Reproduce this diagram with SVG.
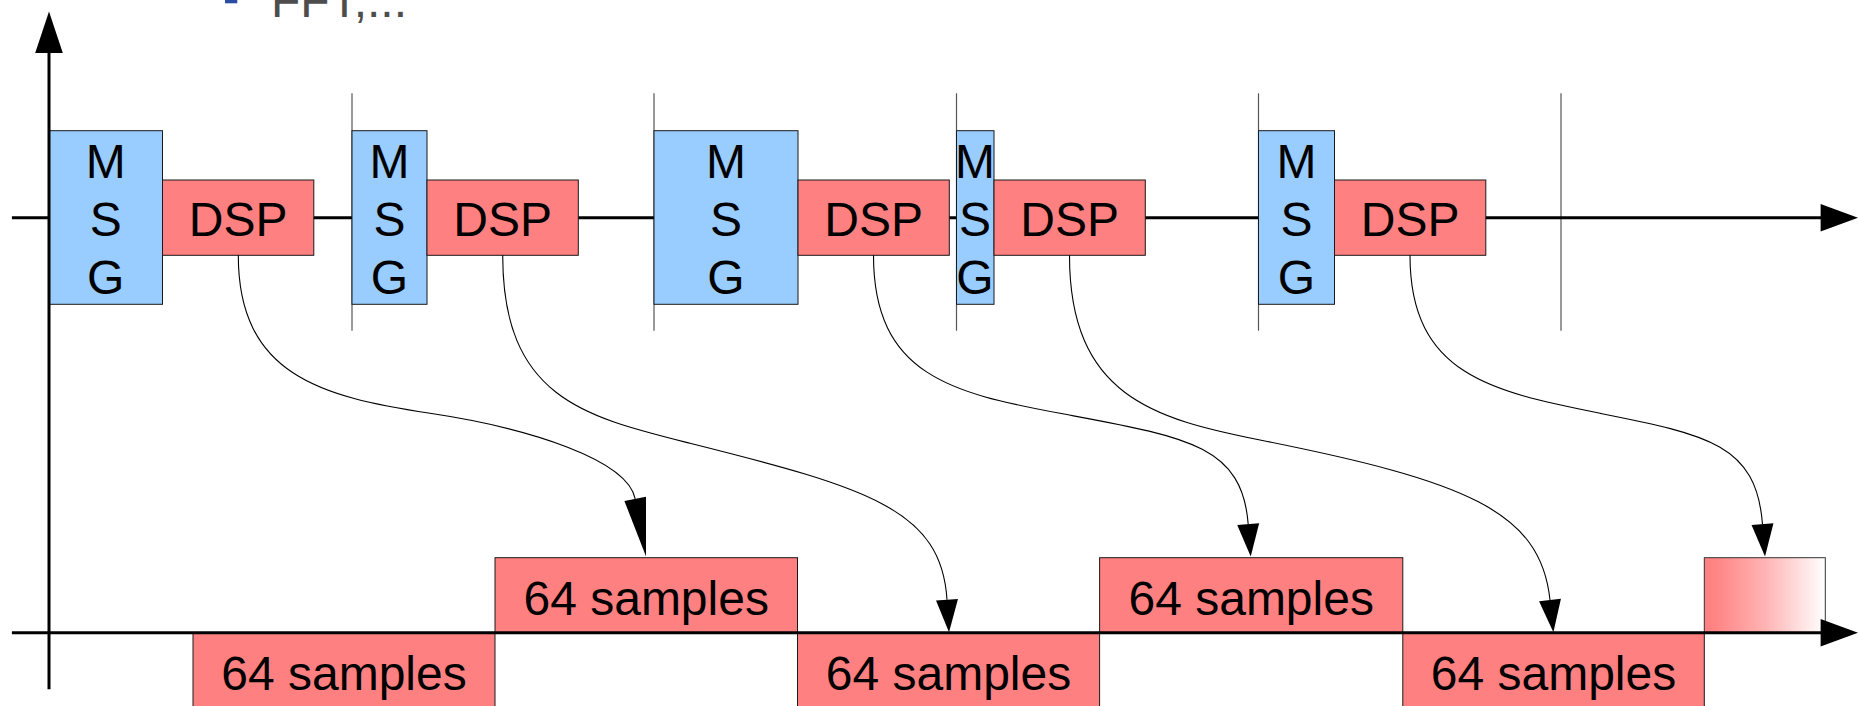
<svg xmlns="http://www.w3.org/2000/svg" width="1858" height="706" viewBox="0 0 1858 706">
<defs>
<style>
.msg{fill:#99ccff;stroke:#1a1a1a;stroke-width:1}
.dsp{fill:#ff8080;stroke:#1a1a1a;stroke-width:1}
.buf{fill:url(#fade);stroke:#333;stroke-width:1}
.lbl{font-family:"Liberation Sans",Arial,sans-serif;font-size:48px;fill:#000;text-anchor:middle}
.title{font-family:"Liberation Sans",Arial,sans-serif;font-size:48px;fill:#4d4d4d}
.axis{stroke:#000;stroke-width:3;fill:none}
.head{fill:#000;stroke:none}
.tick{stroke:#555;stroke-width:1.2;fill:none}
.conn{fill:none;stroke:#000;stroke-width:1.1}
</style>
<marker id="ah" markerUnits="userSpaceOnUse" orient="auto" viewBox="0 -11 33 22" refX="0" refY="0" markerWidth="33" markerHeight="22" overflow="visible">
<path class="head" d="M0,-11 L32.5,0 L0,11 Z"/>
</marker>
<marker id="ahLong" markerUnits="userSpaceOnUse" orient="auto" viewBox="0 -11 59 22" refX="0" refY="0" markerWidth="59" markerHeight="22" overflow="visible">
<path class="head" d="M0,-11 L58.5,0 L0,11 Z"/>
</marker>
<linearGradient id="fade" x1="0" y1="0" x2="1" y2="0">
<stop offset="0" stop-color="#ff8080"/>
<stop offset="0.1" stop-color="#ff8585"/>
<stop offset="0.5" stop-color="#ffb3b3"/>
<stop offset="1" stop-color="#ffffff"/>
</linearGradient>
</defs>

<g id="header">
<rect x="225" y="-10" width="12.3" height="13.3" fill="#2b4ca0"/>
<text class="title" x="271" y="16.7">FFT,...</text>
</g>

<g id="slot-ticks">
<line class="tick" x1="352" y1="93.3" x2="352" y2="330.7"/>
<line class="tick" x1="654" y1="93.3" x2="654" y2="330.7"/>
<line class="tick" x1="956.5" y1="93.3" x2="956.5" y2="330.7"/>
<line class="tick" x1="1258.5" y1="93.3" x2="1258.5" y2="330.7"/>
<line class="tick" x1="1561" y1="93.3" x2="1561" y2="330.7"/>
</g>

<g id="axis-top">
<line class="axis" x1="11.9" y1="217.7" x2="1822" y2="217.7"/>
<polygon class="head" points="1858,217.7 1820.6,203.9 1820.6,231.5"/>
</g>

<g id="msg1"><rect class="msg" x="49" y="130.7" width="113.5" height="173.6"/>
<text class="lbl"><tspan x="105.75" y="178">M</tspan><tspan x="105.75" y="236">S</tspan><tspan x="105.75" y="294">G</tspan></text></g>
<g id="dsp1"><rect class="dsp" x="162.5" y="180" width="151.3" height="75.3"/>
<text class="lbl" x="238.2" y="236.3">DSP</text></g>

<g id="msg2"><rect class="msg" x="352" y="130.7" width="75" height="173.6"/>
<text class="lbl"><tspan x="389.5" y="178">M</tspan><tspan x="389.5" y="236">S</tspan><tspan x="389.5" y="294">G</tspan></text></g>
<g id="dsp2"><rect class="dsp" x="427" y="180" width="151.3" height="75.3"/>
<text class="lbl" x="502.7" y="236.3">DSP</text></g>

<g id="msg3"><rect class="msg" x="654" y="130.7" width="144" height="173.6"/>
<text class="lbl"><tspan x="726" y="178">M</tspan><tspan x="726" y="236">S</tspan><tspan x="726" y="294">G</tspan></text></g>
<g id="dsp3"><rect class="dsp" x="798" y="180" width="151.3" height="75.3"/>
<text class="lbl" x="873.6" y="236.3">DSP</text></g>

<g id="msg4"><rect class="msg" x="956.5" y="130.7" width="37.5" height="173.6"/>
<text class="lbl"><tspan x="975" y="178">M</tspan><tspan x="975" y="236">S</tspan><tspan x="975" y="294">G</tspan></text></g>
<g id="dsp4"><rect class="dsp" x="994" y="180" width="151.3" height="75.3"/>
<text class="lbl" x="1069.6" y="236.3">DSP</text></g>

<g id="msg5"><rect class="msg" x="1258.5" y="130.7" width="76" height="173.6"/>
<text class="lbl"><tspan x="1296.5" y="178">M</tspan><tspan x="1296.5" y="236">S</tspan><tspan x="1296.5" y="294">G</tspan></text></g>
<g id="dsp5"><rect class="dsp" x="1334.5" y="180" width="151.3" height="75.3"/>
<text class="lbl" x="1410.1" y="236.3">DSP</text></g>

<g id="axis-y">
<line class="axis" x1="49" y1="689.3" x2="49" y2="50"/>
<polygon class="head" points="49,11.5 35.2,53 62.8,53"/>
</g>

<g id="samples-a"><rect class="dsp" x="193" y="632.7" width="302" height="75"/>
<text class="lbl" x="344" y="690">64 samples</text></g>
<g id="samples-b"><rect class="dsp" x="495" y="557.7" width="302.5" height="75"/>
<text class="lbl" x="646.2" y="615">64 samples</text></g>
<g id="samples-c"><rect class="dsp" x="797.5" y="632.7" width="302.1" height="75"/>
<text class="lbl" x="948.5" y="690">64 samples</text></g>
<g id="samples-d"><rect class="dsp" x="1099.6" y="557.7" width="303.2" height="75"/>
<text class="lbl" x="1251.2" y="615">64 samples</text></g>
<g id="samples-e"><rect class="dsp" x="1402.8" y="632.7" width="301.5" height="75"/>
<text class="lbl" x="1553.5" y="690">64 samples</text></g>
<g id="samples-next"><rect class="buf" x="1704.3" y="557.7" width="121" height="75"/></g>

<g id="connectors">
<path class="conn" marker-end="url(#ahLong)" d="M238.3,255.3 C238.3,375 321.2,397 430,413.3 C528.9,428.1 627.8,459.6 635.2,498.9"/>
<path class="conn" marker-end="url(#ah)" d="M502.7,255.3 C502.7,398 584.7,416.9 690,443.3 C869.5,488.3 941.4,509.9 947,599.7"/>
<path class="conn" marker-end="url(#ah)" d="M873.5,255.3 C873.5,375 951.9,393.1 1060,413.3 C1185.8,436.9 1242,444.4 1248.2,524.2"/>
<path class="conn" marker-end="url(#ah)" d="M1069.5,255.3 C1069.5,396 1154,418.8 1260,440 C1465,481 1540.6,510.4 1550,600"/>
<path class="conn" marker-end="url(#ah)" d="M1410,255.3 C1410,375 1492,391.7 1600,413.3 C1707.9,434.9 1756.3,444.4 1762.5,524.2"/>
</g>

<g id="axis-bottom">
<line class="axis" x1="11.9" y1="632.7" x2="1822" y2="632.7"/>
<polygon class="head" points="1858,632.7 1820.6,618.9 1820.6,646.5"/>
</g>
</svg>
